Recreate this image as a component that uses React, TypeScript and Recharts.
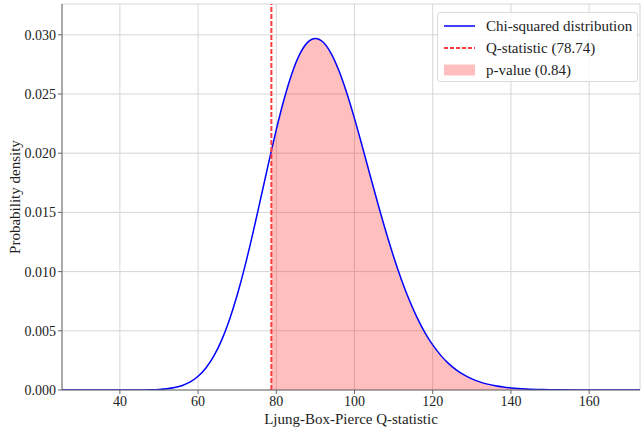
import { ComposedChart, Line, Area, XAxis, YAxis, CartesianGrid, ReferenceLine, Legend } from 'recharts';

// values (chi-squared density, df ~ 92)
const qValues = [25.2, 30, 35, 40, 44, 48, 50, 52, 54, 56, 58, 60, 62, 64, 66, 68, 70, 72, 74, 76, 78.74, 80, 82, 84, 86, 88, 90, 92, 94, 96, 98, 100, 102, 104, 106, 108, 110, 112, 114, 116, 118, 120, 122, 124, 126, 128, 130, 132, 134, 136, 138, 140, 144, 148, 152, 156, 160, 166, 173];
const density = [0, 0, 0, 0.0000003, 0.000003, 0.0000203, 0.0000469, 0.000101, 0.000203, 0.000383, 0.000683, 0.001156, 0.00186, 0.002855, 0.004195, 0.005921, 0.008017, 0.010479, 0.013227, 0.016158, 0.020211, 0.021989, 0.024575, 0.02674, 0.02836, 0.029357, 0.02969, 0.029367, 0.028436, 0.026979, 0.025101, 0.022921, 0.020556, 0.018118, 0.015707, 0.0134, 0.011258, 0.009317, 0.007601, 0.006116, 0.004856, 0.003805, 0.002945, 0.002252, 0.001702, 0.001272, 0.00094, 0.000688, 0.000498, 0.000357, 0.000253, 0.000178, 0.0000856, 0.0000397, 0.0000178, 0.0000077, 0.0000033, 0.0000008, 0];
const qStat = 78.74;
const pValue = 0.84;
const xTicks = [40, 60, 80, 100, 120, 140, 160];
const yTicks = [0, 0.005, 0.01, 0.015, 0.02, 0.025, 0.03];

const data = qValues.map((q, i) => ({
  q,
  pdf: density[i],
  tail: q >= qStat ? density[i] : null,
}));

const font = "'Liberation Serif', 'DejaVu Serif', serif";
const dashRed = '#ff3b3b';

const LegendBox = () => (
  <div style={{
    width: 201,
    height: 70,
    boxSizing: 'border-box',
    background: 'rgba(255,255,255,0.85)',
    border: '1px solid #dcdcdc',
    borderRadius: 3,
    fontFamily: font,
    fontSize: 15,
    color: '#222',
    paddingTop: 2,
  }}>
    {[
      { label: 'Chi-squared distribution', kind: 'line' },
      { label: `Q-statistic (${qStat})`, kind: 'dash' },
      { label: `p-value (${pValue})`, kind: 'rect' },
    ].map(item => (
      <div key={item.label} style={{ display: 'flex', alignItems: 'center', height: 22 }}>
        <svg width={48} height={14} style={{ flex: 'none' }}>
          {item.kind === 'line' && <line x1={6} x2={37} y1={7} y2={7} stroke="#0000ff" strokeWidth={1.5} />}
          {item.kind === 'dash' && <line x1={6} x2={37} y1={7} y2={7} stroke={dashRed} strokeWidth={2} strokeDasharray="4 2" />}
          {item.kind === 'rect' && <rect x={6} y={1.5} width={31} height={11} fill="#ff0000" fillOpacity={0.25} />}
        </svg>
        <span style={{ whiteSpace: 'nowrap' }}>{item.label}</span>
      </div>
    ))}
  </div>
);

export default function App() {
  return (
    <div style={{ position: 'absolute', left: 0, top: 0, width: 641, height: 432, background: '#fff' }}>
      <ComposedChart width={641} height={432} data={data} margin={{ top: 4, right: 1, left: 0, bottom: 0 }}>
        <CartesianGrid stroke="#d6d6d6" />
        <XAxis
          dataKey="q"
          type="number"
          domain={[25.2, 173]}
          ticks={xTicks}
          allowDataOverflow
          height={42}
          tickSize={4}
          tickMargin={2}
          stroke="#666"
          tick={{ fill: '#222', fontFamily: font, fontSize: 14 }}
          label={{ value: 'Ljung-Box-Pierce Q-statistic', position: 'insideBottom', offset: 8, fill: '#222', fontFamily: font, fontSize: 15 }}
        />
        <YAxis
          type="number"
          domain={[0, 0.0326]}
          ticks={yTicks}
          allowDataOverflow
          width={62}
          tickSize={4}
          tickMargin={2}
          stroke="#666"
          tickFormatter={(v: number) => v.toFixed(3)}
          tick={{ fill: '#222', fontFamily: font, fontSize: 14 }}
          label={{ value: 'Probability density', angle: -90, position: 'insideLeft', offset: 15, style: { textAnchor: 'middle' }, fill: '#222', fontFamily: font, fontSize: 15 }}
        />
        <Area dataKey="tail" type="monotone" stroke="none" fill="#ff0000" fillOpacity={0.25} baseValue={0} isAnimationActive={false} connectNulls={false} />
        <Line dataKey="pdf" type="monotone" stroke="#0000ff" strokeWidth={1.5} dot={false} isAnimationActive={false} />
        <ReferenceLine x={qStat} stroke={dashRed} strokeWidth={2} strokeDasharray="5 2" />
        <Legend layout="vertical" align="center" verticalAlign="middle" content={<LegendBox />} wrapperStyle={{ top: 12, left: 437, width: 201 }} />
      </ComposedChart>
    </div>
  );
}
